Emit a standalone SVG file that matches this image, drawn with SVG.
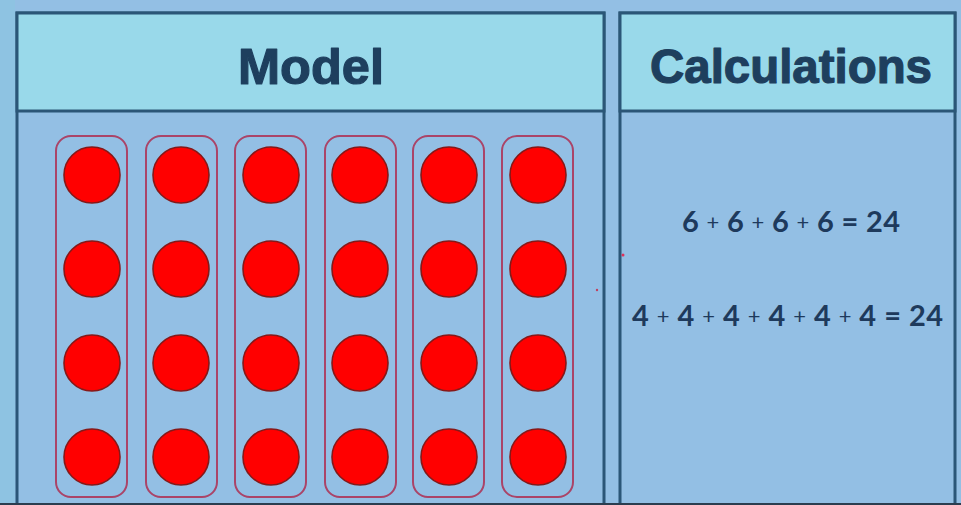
<svg xmlns="http://www.w3.org/2000/svg" width="961" height="505" viewBox="0 0 961 505">
<style>
.panel{fill:#93bfe4;stroke:#2b5677;stroke-width:3}
.head{fill:#99d9ea;stroke:#2b5677;stroke-width:3}
.title{font-family:"Liberation Sans",Arial,sans-serif;font-weight:bold;fill:#1e3f5e;stroke:#1e3f5e;stroke-width:1.2;stroke-linejoin:round;text-anchor:middle}
.eq{font-family:"Lato","Liberation Sans",sans-serif;font-weight:bold;fill:#1e3a5c;font-size:29px}
.pl{font-size:22px;font-weight:normal}
.cap{fill:none;stroke:#aa4468;stroke-width:2}
.dot{fill:#ff0000;stroke:#861818;stroke-width:1.6}
</style>
<rect x="0" y="0" width="961" height="505" fill="#93bfe4"/>
<rect x="0" y="0" width="15" height="505" fill="#8ec3e2"/>
<g id="model-panel">
<rect class="panel" x="17" y="13" width="587" height="495"/>
<rect class="head" x="17" y="13" width="587" height="98"/>
<text class="title" x="311" y="84" font-size="50" textLength="146" lengthAdjust="spacingAndGlyphs">Model</text>
</g>
<g id="calc-panel">
<rect class="panel" x="620" y="13" width="335" height="495"/>
<rect class="head" x="620" y="13" width="335" height="98"/>
<text class="title" x="791" y="83" font-size="48" textLength="282" lengthAdjust="spacingAndGlyphs">Calculations</text>
<text class="eq" x="682" y="232" textLength="218" lengthAdjust="spacing">6 <tspan class="pl" baseline-shift="2">+</tspan> 6 <tspan class="pl" baseline-shift="2">+</tspan> 6 <tspan class="pl" baseline-shift="2">+</tspan> 6 = 24</text>
<text class="eq" x="632" y="326" textLength="311" lengthAdjust="spacing">4 <tspan class="pl" baseline-shift="2">+</tspan> 4 <tspan class="pl" baseline-shift="2">+</tspan> 4 <tspan class="pl" baseline-shift="2">+</tspan> 4 <tspan class="pl" baseline-shift="2">+</tspan> 4 <tspan class="pl" baseline-shift="2">+</tspan> 4 = 24</text>
<circle cx="623" cy="255" r="1.5" fill="#e0305a"/>
<circle cx="597" cy="290" r="1.2" fill="#c04060"/>
</g>
<g id="col1"><rect class="cap" x="56" y="136" width="71" height="361" rx="15"/><circle class="dot" cx="92" cy="175" r="28"/><circle class="dot" cx="92" cy="269" r="28"/><circle class="dot" cx="92" cy="363" r="28"/><circle class="dot" cx="92" cy="457" r="28"/></g>
<g id="col2"><rect class="cap" x="146" y="136" width="71" height="361" rx="15"/><circle class="dot" cx="181" cy="175" r="28"/><circle class="dot" cx="181" cy="269" r="28"/><circle class="dot" cx="181" cy="363" r="28"/><circle class="dot" cx="181" cy="457" r="28"/></g>
<g id="col3"><rect class="cap" x="235" y="136" width="71" height="361" rx="15"/><circle class="dot" cx="271" cy="175" r="28"/><circle class="dot" cx="271" cy="269" r="28"/><circle class="dot" cx="271" cy="363" r="28"/><circle class="dot" cx="271" cy="457" r="28"/></g>
<g id="col4"><rect class="cap" x="325" y="136" width="71" height="361" rx="15"/><circle class="dot" cx="360" cy="175" r="28"/><circle class="dot" cx="360" cy="269" r="28"/><circle class="dot" cx="360" cy="363" r="28"/><circle class="dot" cx="360" cy="457" r="28"/></g>
<g id="col5"><rect class="cap" x="413" y="136" width="71" height="361" rx="15"/><circle class="dot" cx="449" cy="175" r="28"/><circle class="dot" cx="449" cy="269" r="28"/><circle class="dot" cx="449" cy="363" r="28"/><circle class="dot" cx="449" cy="457" r="28"/></g>
<g id="col6"><rect class="cap" x="502" y="136" width="71" height="361" rx="15"/><circle class="dot" cx="538" cy="175" r="28"/><circle class="dot" cx="538" cy="269" r="28"/><circle class="dot" cx="538" cy="363" r="28"/><circle class="dot" cx="538" cy="457" r="28"/></g>
<g id="connectors"/>
<line x1="0" y1="504" x2="961" y2="504" stroke="#2b3d4f" stroke-width="2"/>
</svg>
